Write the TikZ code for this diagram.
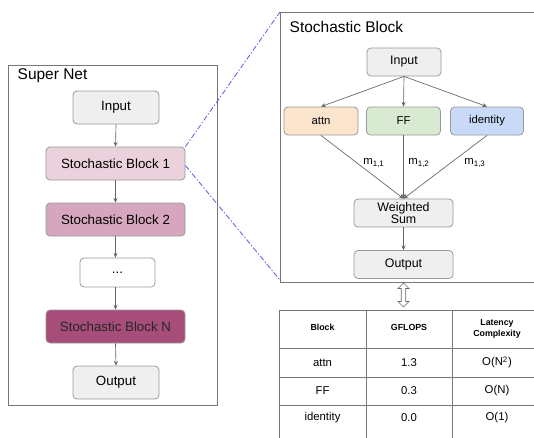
\documentclass[tikz,border=0pt]{standalone}
\usepackage{fontspec}
\setmainfont{Liberation Sans}
\usetikzlibrary{arrows.meta,shapes.arrows}
\definecolor{nodegray}{HTML}{EFEFEF}
\definecolor{nodeborder}{HTML}{999999}
\definecolor{sbone}{HTML}{EAD1DC}
\definecolor{sbtwo}{HTML}{D5A6BD}
\definecolor{sbn}{HTML}{A64D79}
\definecolor{attncol}{HTML}{FCE5CD}
\definecolor{ffcol}{HTML}{D9EAD3}
\definecolor{idcol}{HTML}{C9DAF8}
\definecolor{framecol}{HTML}{777777}
\definecolor{arrowcol}{HTML}{666666}
\definecolor{zoomblue}{HTML}{5A5AF0}
\tikzset{
  box/.style={draw=nodeborder, rounded corners=3pt, line width=0.6pt, align=center, inner sep=0pt},
  frame/.style={draw=framecol, line width=0.7pt},
  conn/.style={draw=arrowcol, line width=0.5pt, -{Stealth[length=3.5pt,width=3pt]}},
  zoomline/.style={draw=zoomblue, line width=0.6pt, dash pattern=on 4pt off 1.5pt on 1pt off 1.5pt},
  bigfont/.style={font=\fontsize{10}{12}\selectfont},
  medfont/.style={font=\fontsize{9.3}{10.5}\selectfont},
  smallfont/.style={font=\fontsize{8.5}{10}\selectfont},
  hdrfont/.style={font=\fontsize{6.6}{8}\selectfont\bfseries},
  tline/.style={draw=framecol, line width=0.6pt}
}
\begin{document}
\begin{tikzpicture}[x=0.75pt,y=-0.75pt]
\useasboundingbox (0,0) rectangle (534,437);
\fill[white] (0,0) rectangle (534,437);
% Super Net frame
\draw[frame] (8,65) rectangle (217,405);
\node[anchor=west, font=\fontsize{11.6}{13}\selectfont] (sntitle) at (13,76) {Super Net};
\node[box, fill=nodegray, minimum width=86*0.75pt, minimum height=33*0.75pt, bigfont] (in) at (116,107.5) {Input};
\node[box, fill=sbone, minimum width=139*0.75pt, minimum height=33*0.75pt, bigfont] (sb1) at (115.5,163.5) {Stochastic Block 1};
\node[box, fill=sbtwo, minimum width=139*0.75pt, minimum height=33*0.75pt, bigfont] (sb2) at (115.5,219.5) {Stochastic Block 2};
\node[box, fill=white, minimum width=75*0.75pt, minimum height=29*0.75pt, bigfont] (dots) at (117.5,272.5) {...};
\node[box, fill=sbn, minimum width=139*0.75pt, minimum height=33*0.75pt, bigfont, text=black!85] (sbN) at (115.5,326.5) {Stochastic Block N};
\node[box, fill=nodegray, minimum width=86*0.75pt, minimum height=33*0.75pt, bigfont] (out) at (116,382.5) {Output};
\draw[conn] (in.south) -- (sb1.north);
\draw[conn] (sb1.south) -- (sb2.north);
\draw[conn] (sb2.south) -- (sb2.south |- dots.north);
\draw[conn] (sb2.south |- dots.south) -- (sbN.north);
\draw[conn] (sbN.south) -- (out.north);
% Stochastic Block frame
\draw[frame] (540,12) -- (280,12) -- (280,282) -- (540,282);
\coordinate (rtl) at (280,12);
\coordinate (rbl) at (280,280);
\node[anchor=west, font=\fontsize{11.6}{13}\selectfont] (sbtitle) at (285,27) {Stochastic Block};
\node[box, fill=nodegray, minimum width=74*0.75pt, minimum height=28*0.75pt, medfont] (iin) at (404,62) {Input};
\node[box, fill=attncol, minimum width=74*0.75pt, minimum height=28*0.75pt, smallfont] (attn) at (321,121) {attn};
\node[box, fill=ffcol, minimum width=74*0.75pt, minimum height=28*0.75pt, smallfont] (ff) at (403.5,121) {FF};
\node[box, fill=idcol, minimum width=73*0.75pt, minimum height=28*0.75pt, smallfont] (idn) at (487,121) {identity};
\node[box, fill=nodegray, minimum width=99*0.75pt, minimum height=28*0.75pt, medfont] (ws) at (403.5,213) {Weighted\\[-1pt]Sum};
\node[box, fill=nodegray, minimum width=99*0.75pt, minimum height=28*0.75pt, medfont] (iout) at (403.5,264.5) {Output};
\draw[conn] (iin.south) -- (attn.north);
\draw[conn] (iin.south) -- (ff.north);
\draw[conn] (iin.south) -- (idn.north);
\draw[conn] (attn.south) -- (ws.north);
\draw[conn] (ff.south) -- (ws.north);
\draw[conn] (idn.south) -- (ws.north);
\draw[conn] (ws.south) -- (iout.north);
\node[font=\fontsize{8.5}{10}\selectfont] (m11) at (374,163) {m\textsubscript{1,1}};
\node[font=\fontsize{8.5}{10}\selectfont] (m12) at (419,163) {m\textsubscript{1,2}};
\node[font=\fontsize{8.5}{10}\selectfont] (m13) at (475,163) {m\textsubscript{1,3}};
% zoom lines
\draw[zoomline] (sb1.north east) -- (rtl);
\draw[zoomline] ([yshift=-1.5pt]sb1.east) -- (rbl);
% double arrow
\node[double arrow, draw=arrowcol, fill=white, line width=0.5pt, rotate=90, minimum height=24*0.75pt, minimum width=11*0.75pt, double arrow head extend=1.5pt, inner sep=0.8pt] (darr) at (403.5,295) {};
% table
\draw[tline] (279,440) -- (279,310) -- (540,310);
\draw[tline] (366,310) -- (366,440);
\draw[tline] (452,310) -- (452,440);
\draw[tline] (279,348) -- (540,348);
\draw[tline] (279,377) -- (540,377);
\draw[tline] (279,405) -- (540,405);
\node[hdrfont] (h1) at (322.5,327) {Block};
\node[hdrfont] (h2) at (409,327) {GFLOPS};
\node[hdrfont, align=center] (h3) at (497,329) {Latency\\Complexity};
\node[smallfont] (r1a) at (322.5,362.5) {attn};
\node[smallfont] (r1b) at (409,362.5) {1.3};
\node[smallfont] (r1c) at (497,362.5) {O(N\textsuperscript{2})};
\node[smallfont] (r2a) at (322.5,391) {FF};
\node[smallfont] (r2b) at (409,391) {0.3};
\node[smallfont] (r2c) at (497,391) {O(N)};
\node[smallfont] (r3a) at (322.5,418) {identity};
\node[smallfont] (r3b) at (409,418) {0.0};
\node[smallfont] (r3c) at (497,418) {O(1)};
\end{tikzpicture}
\end{document}
